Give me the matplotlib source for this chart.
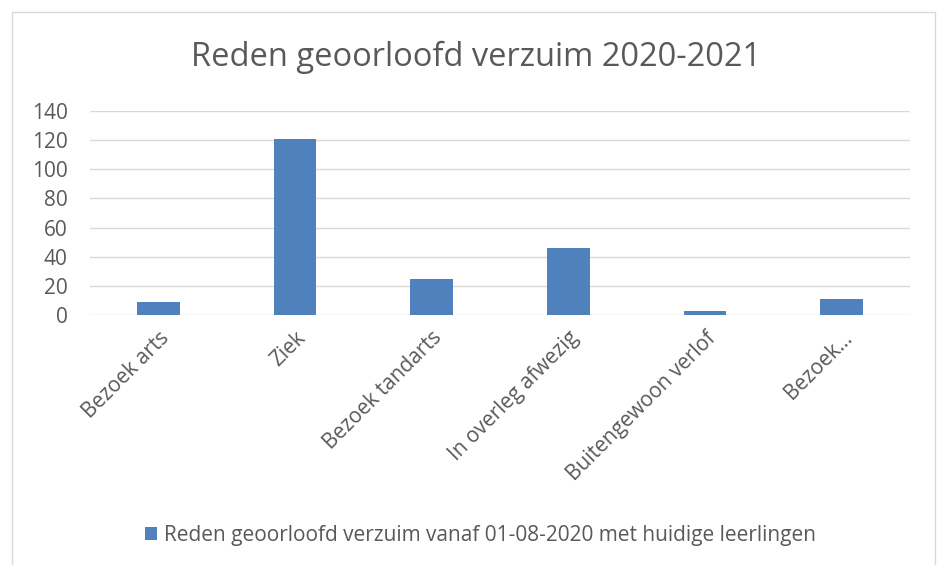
import matplotlib
matplotlib.use("Agg")
import matplotlib.pyplot as plt
from matplotlib.patches import Rectangle

# chart data
categories = ["Bezoek arts", "Ziek", "Bezoek tandarts", "In overleg afwezig",
              "Buitengewoon verlof", "Bezoek..."]
values = [9, 121, 25, 46, 3, 11]
y_ticks = [0, 20, 40, 60, 80, 100, 120, 140]
series_name = "Reden geoorloofd verzuim vanaf 01-08-2020 met huidige leerlingen"
title = "Reden geoorloofd verzuim 2020-2021"

TEXT = "#595959"
BAR = "#4F81BD"
GRID = "#D9D9D9"

plt.rcParams["font.family"] = ["Open Sans", "DejaVu Sans"]

fig = plt.figure(figsize=(9.38, 5.65), dpi=100)
# chart area border
fig.patches.append(Rectangle((12 / 938, -0.1), 923 / 938, 1.1 - 12 / 565,
                             transform=fig.transFigure, fill=False,
                             edgecolor="#D9D9D9", linewidth=1.0))

ax = fig.add_axes([90 / 938, 1 - 315 / 565, 820 / 938, 204 / 565])
x = list(range(len(categories)))
ax.bar(x, values, width=0.31, color=BAR, label=series_name, zorder=3)

ax.set_xlim(-0.5, len(categories) - 0.5)
ax.set_ylim(0, 140)
ax.set_yticks(y_ticks)
ax.yaxis.grid(True, color=GRID, linewidth=1.0, zorder=0)
for s in ax.spines.values():
    s.set_visible(False)
ax.tick_params(axis="both", length=0, colors=TEXT, labelsize=15)
ax.tick_params(axis="y", pad=16)
ax.set_xticks(x)
ax.set_xticklabels(categories, rotation=45, ha="right", va="top",
                   rotation_mode="anchor")
ax.tick_params(axis="x", pad=9)

fig.text(0.507, 1 - 57 / 565, title, ha="center", va="center",
         fontsize=23.5, color=TEXT)

fig.legend(loc="center", bbox_to_anchor=(0.512, 1 - 535 / 565), frameon=False,
           fontsize=15, labelcolor=TEXT, handlelength=0.6, handleheight=0.6,
           handletextpad=0.3)

fig.savefig("out.png", dpi=100)
